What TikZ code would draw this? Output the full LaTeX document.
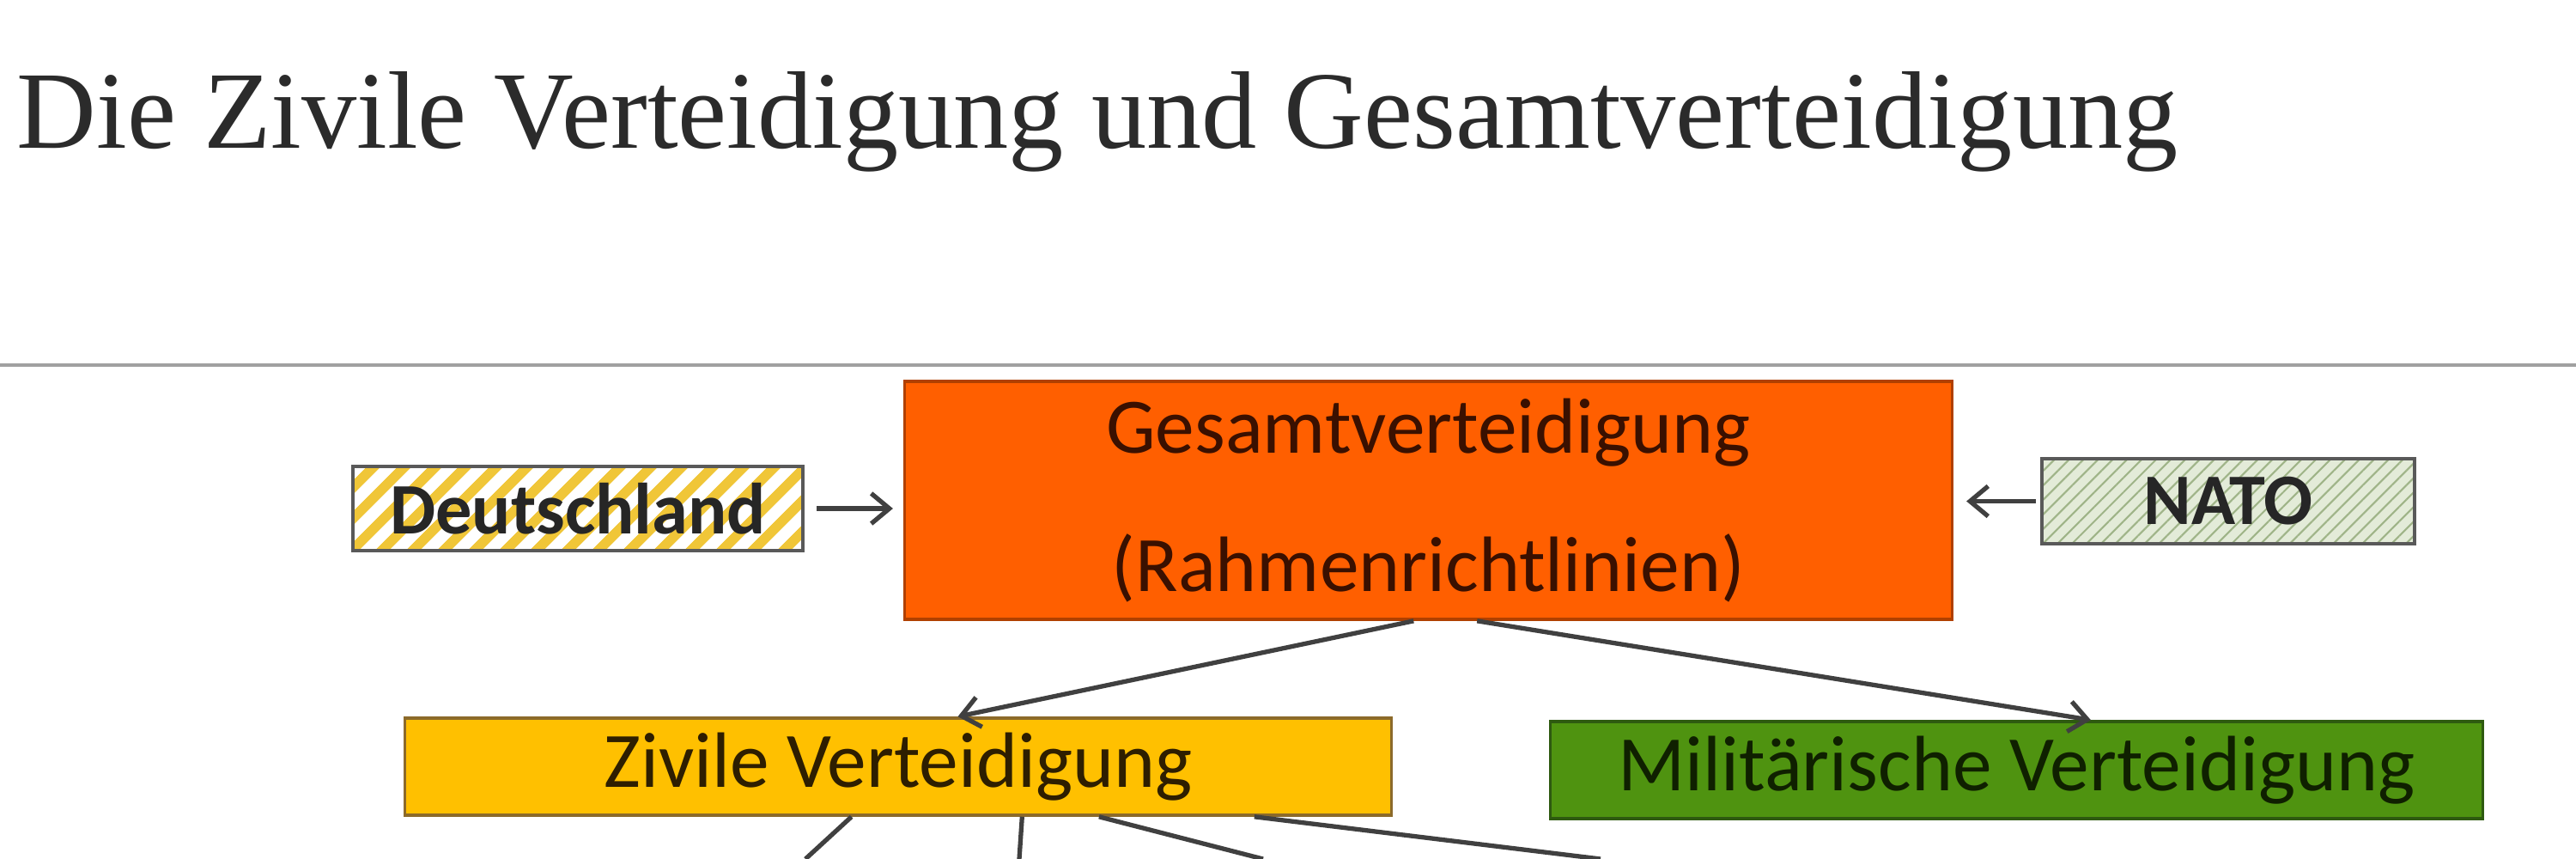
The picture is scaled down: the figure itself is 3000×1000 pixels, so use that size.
\documentclass[tikz,border=0pt]{standalone}
\usepackage{fontspec}
\setmainfont{Liberation Serif}
\newfontfamily\boxfont{Carlito}
\usetikzlibrary{arrows.meta,patterns.meta}

\definecolor{titlegray}{HTML}{2B2B2B}
\definecolor{rulegray}{HTML}{A0A0A0}
\definecolor{gesamtfill}{HTML}{FF5F00}
\definecolor{gesamtdraw}{HTML}{B04000}
\definecolor{gesamttext}{HTML}{3A1000}
\definecolor{zivilfill}{HTML}{FFC000}
\definecolor{zivildraw}{HTML}{8C6A2A}
\definecolor{ziviltext}{HTML}{2E1E00}
\definecolor{militfill}{HTML}{4F9310}
\definecolor{militdraw}{HTML}{2E5A10}
\definecolor{milittext}{HTML}{0F2000}
\definecolor{deutstripe}{HTML}{F0C638}
\definecolor{natofill}{HTML}{E3EBD8}
\definecolor{natostripe}{HTML}{9FB488}
\definecolor{linkgray}{HTML}{404040}

\tikzset{
  box/.style={rectangle, draw, line width=1pt, inner sep=0pt,
    font=\boxfont\fontsize{26}{46}\selectfont},
  flag/.style={box, draw=black!65, text=black!85, font=\boxfont\bfseries\fontsize{24}{28}\selectfont},
  link/.style={draw=linkgray, line width=1.5pt},
}

\begin{document}
\begin{tikzpicture}[x=0.01cm, y=-0.01cm, >={Straight Barb[length=6pt,width=10pt]}]
  \clip (0,0) rectangle (3000,1000);
  \fill[white] (0,0) rectangle (3000,1000);

  % title and rule
  \node[anchor=base west, inner sep=0pt, text=titlegray, font=\fontsize{36.5}{40}\selectfont] (title) at (19,172) {Die Zivile Verteidigung und Gesamtverteidigung};
  \draw[rulegray, line width=1pt] (0,425) -- (3000,425);

  % boxes
  \node[box, fill=gesamtfill, draw=gesamtdraw, text=gesamttext, align=center, minimum width=12.19cm, minimum height=2.77cm] (gesamt) at (1663.5,582.5) {Gesamtverteidigung\\(Rahmenrichtlinien)};
  \node[flag, preaction={fill=white}, pattern={Lines[angle=45,distance=7.4pt,line width=3.4pt]}, pattern color=deutstripe, minimum width=5.24cm, minimum height=0.98cm] (deut) at (673,592) {Deutschland};
  \node[flag, preaction={fill=natofill}, pattern={Lines[angle=45,distance=3.4pt,line width=0.6pt]}, pattern color=natostripe, minimum width=4.34cm, minimum height=0.99cm] (nato) at (2595,583.5) {NATO};
  \node[box, fill=zivilfill, draw=zivildraw, text=ziviltext, minimum width=11.48cm, minimum height=1.13cm] (zivil) at (1046,892.5) {Zivile Verteidigung};
  \node[box, fill=militfill, draw=militdraw, text=milittext, minimum width=10.85cm, minimum height=1.13cm] (milit) at (2348.5,896.5) {Militärische Verteidigung};

  % free ends below the page
  \coordinate (z1) at (938,1000);
  \coordinate (z2) at (1187,1000);
  \coordinate (z3) at (1471,1000);
  \coordinate (z4) at (1864,1000);

  % connectors
  \draw[link, ->, shorten <=0.1cm, shorten >=0.12cm] (deut.east) -- (deut.east -| gesamt.west);
  \draw[link, ->, shorten <=0.06cm, shorten >=0.15cm] (nato.west) -- (nato.west -| gesamt.east);
  \draw[link, ->] (gesamt.263.6) -- (zivil.40.1);
  \draw[link, ->] (gesamt.292.2) -- (milit.34.1);
  \foreach \ang/\dest in {227.4/z1, 338.2/z2, 346.1/z3, 352.7/z4}
    \draw[link] (zivil.\ang) -- (\dest);
\end{tikzpicture}
\end{document}
